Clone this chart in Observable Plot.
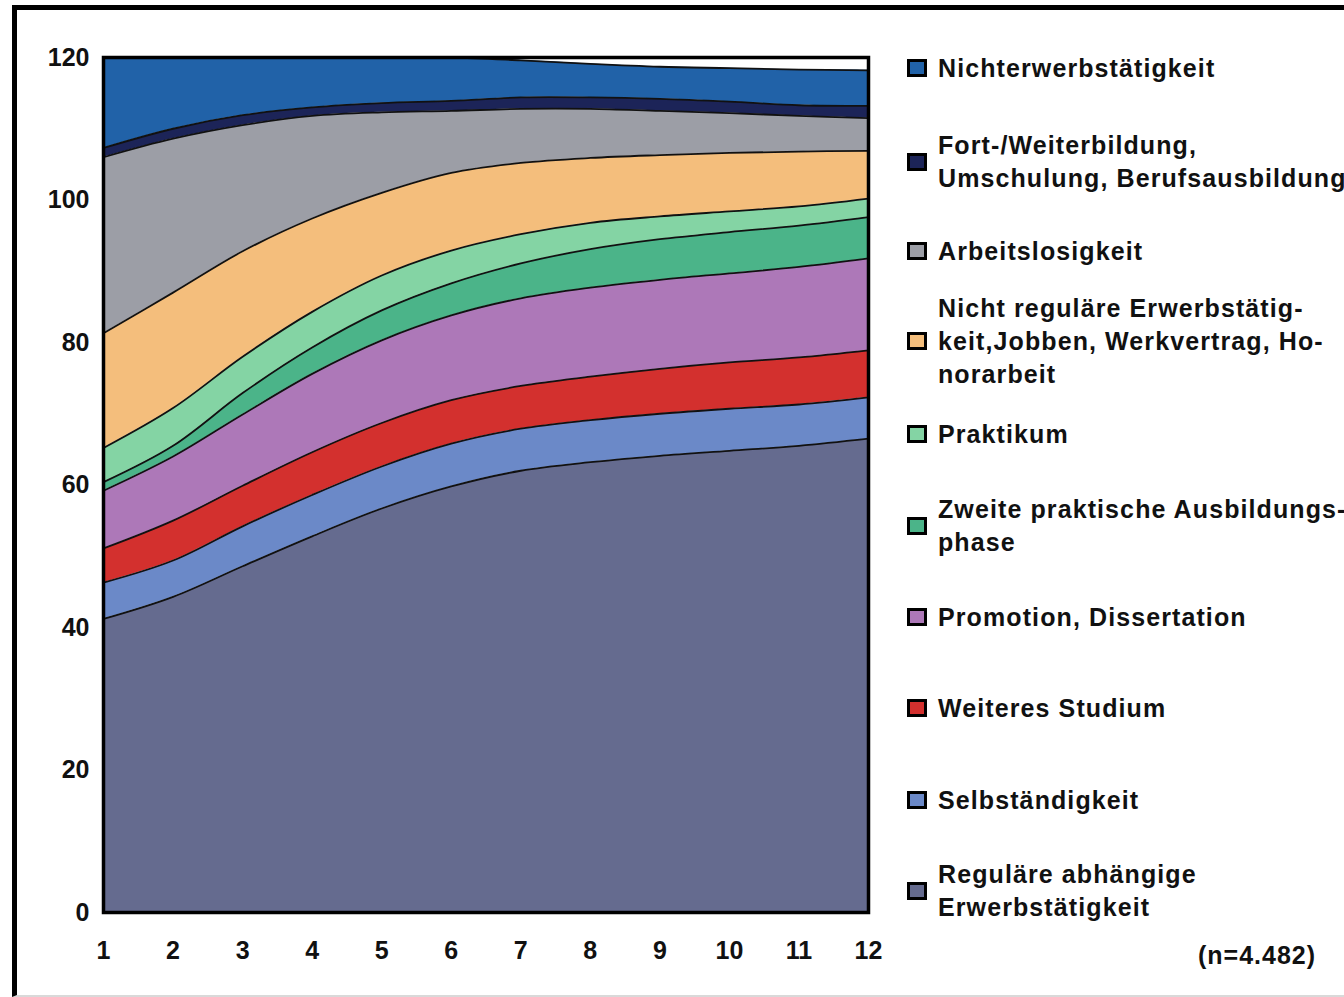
<!DOCTYPE html>
<html>
<head>
<meta charset="utf-8">
<script src="https://cdn.jsdelivr.net/npm/d3@7"></script>
<script src="https://cdn.jsdelivr.net/npm/@observablehq/plot@0.6"></script>
<style>
  body { margin: 0; background: #fff; font-family: "Liberation Sans", Arial, sans-serif; overflow: hidden; }
  #frame {
    position: absolute; left: 12px; top: 5px; width: 1340px; height: 992px;
    border-left: 5px solid #000; border-top: 5px solid #000; border-bottom: 2px solid #d9d9d9;
    box-sizing: border-box;
  }
  #chart { position: absolute; left: 0; top: 0; }
  .key { position: absolute; left: 907px; width: 20px; height: 18px; border: 3px solid #000; box-sizing: border-box; }
  .lab { position: absolute; left: 938px; font-weight: bold; font-size: 25px; line-height: 33px;
         letter-spacing: 1.1px; color: #111; white-space: nowrap; }
  #note { position: absolute; left: 1198px; top: 941px; font-weight: bold; font-size: 25px;
          letter-spacing: 1px; color: #111; }
</style>
</head>
<body>
<div id="frame"></div>
<div id="chart"></div>
<div id="legend"></div>
<div id="note">(n=4.482)</div>
<script>
// Time points on the x axis
const periods = [1, 2, 3, 4, 5, 6, 7, 8, 9, 10, 11, 12];
const yTicks = [0, 20, 40, 60, 80, 100, 120];

// Status categories, stacked from the bottom up
const categories = [
  "Reguläre abhängige Erwerbstätigkeit",
  "Selbständigkeit",
  "Weiteres Studium",
  "Promotion, Dissertation",
  "Zweite praktische Ausbildungsphase",
  "Praktikum",
  "Nicht reguläre Erwerbstätigkeit, Jobben, Werkvertrag, Honorararbeit",
  "Arbeitslosigkeit",
  "Fort-/Weiterbildung, Umschulung, Berufsausbildung",
  "Nichterwerbstätigkeit"
];

// Share of each status per time point
const regulaer       = [41.2, 44.3, 48.6, 52.8, 56.7, 59.8, 62.0, 63.2, 64.1, 64.8, 65.5, 66.5];
const selbstaendig   = [5.1, 5.1, 5.6, 5.8, 5.9, 6.0, 5.9, 5.9, 5.9, 5.9, 5.8, 5.8];
const weiteresStud   = [4.8, 5.6, 5.7, 6.0, 6.1, 6.1, 6.0, 6.1, 6.3, 6.5, 6.6, 6.6];
const promotion      = [8.1, 9.0, 10.0, 11.0, 11.6, 11.9, 12.3, 12.5, 12.5, 12.5, 12.7, 12.9];
const zweitePhase    = [1.2, 1.5, 3.0, 3.7, 4.2, 4.5, 4.9, 5.4, 5.7, 5.8, 5.8, 5.8];
const praktikum      = [4.8, 5.3, 5.1, 5.0, 4.9, 4.6, 4.1, 3.7, 3.2, 2.9, 2.7, 2.6];
const nichtRegulaer  = [16.1, 16.2, 14.8, 13.1, 11.6, 10.9, 10.0, 9.1, 8.6, 8.2, 7.7, 6.7];
const arbeitslos     = [24.7, 21.6, 17.7, 14.4, 11.3, 8.7, 7.6, 6.9, 6.2, 5.6, 5.0, 4.6];
const weiterbildung  = [1.3, 1.4, 1.4, 1.2, 1.3, 1.4, 1.6, 1.6, 1.7, 1.6, 1.5, 1.7];
const nichterwerb    = [12.7, 10.0, 8.1, 7.0, 6.4, 6.1, 5.2, 4.7, 4.5, 4.7, 5.0, 5.0];

const seriesValues = [regulaer, selbstaendig, weiteresStud, promotion, zweitePhase,
                      praktikum, nichtRegulaer, arbeitslos, weiterbildung, nichterwerb];

const colors = ["#656b8f", "#6b89c8", "#d3302e", "#ad78b8", "#4bb489",
                "#84d4a4", "#f4be7c", "#9c9ea6", "#1c2458", "#2162a8"];

// Legend text, listed top to bottom (line breaks as printed)
const legendLabels = [
  ["Nichterwerbstätigkeit"],
  ["Fort-/Weiterbildung,", "Umschulung, Berufsausbildung"],
  ["Arbeitslosigkeit"],
  ["Nicht reguläre Erwerbstätig-", "keit,Jobben, Werkvertrag, Ho-", "norarbeit"],
  ["Praktikum"],
  ["Zweite praktische Ausbildungs-", "phase"],
  ["Promotion, Dissertation"],
  ["Weiteres Studium"],
  ["Selbständigkeit"],
  ["Reguläre abhängige", "Erwerbstätigkeit"]
];

// Tidy table for the stack
const table = [];
categories.forEach((cat, i) => {
  periods.forEach((p, j) => table.push({period: p, status: cat, value: seriesValues[i][j]}));
});

const curve = "catmull-rom";
const stackOpts = {x: "period", y: "value", z: "status", order: null};

const chart = Plot.plot({
  width: 900,
  height: 990,
  marginLeft: 103,
  marginRight: 32,
  marginTop: 57,
  marginBottom: 78,
  style: {fontFamily: "'Liberation Sans', Arial, sans-serif", fontSize: "25px", fontWeight: "bold", color: "#111", background: "transparent"},
  x: {domain: [1, 12]},
  y: {domain: [0, 120]},
  color: {domain: categories, range: colors},
  marks: [
    Plot.areaY(table, Plot.stackY({...stackOpts, fill: "status", curve})),
    Plot.lineY(table, Plot.stackY2({...stackOpts, stroke: "#111", strokeWidth: 1.8, curve})),
    Plot.frame({stroke: "#000", strokeWidth: 3.5}),
    Plot.axisY({ticks: yTicks, tickSize: 0, tickPadding: 14, label: null}),
    Plot.axisX({ticks: periods, tickSize: 0, tickPadding: 29, label: null, tickFormat: d => String(d)})
  ]
});
document.getElementById("chart").appendChild(chart);

// Legend: swatch and label block, vertically centred on each row
const rowCenters = [68, 162, 251, 341, 434, 526, 617, 708, 800, 891];
const legend = document.getElementById("legend");
const legendColors = colors.slice().reverse();
legendLabels.forEach((lines, i) => {
  const c = rowCenters[i];
  const key = document.createElement("div");
  key.className = "key";
  key.style.top = (c - 9) + "px";
  key.style.background = legendColors[i];
  legend.appendChild(key);
  const lab = document.createElement("div");
  lab.className = "lab";
  lab.style.top = (c - lines.length * 33 / 2) + "px";
  lab.innerHTML = lines.join("<br>");
  legend.appendChild(lab);
});
</script>
</body>
</html>
